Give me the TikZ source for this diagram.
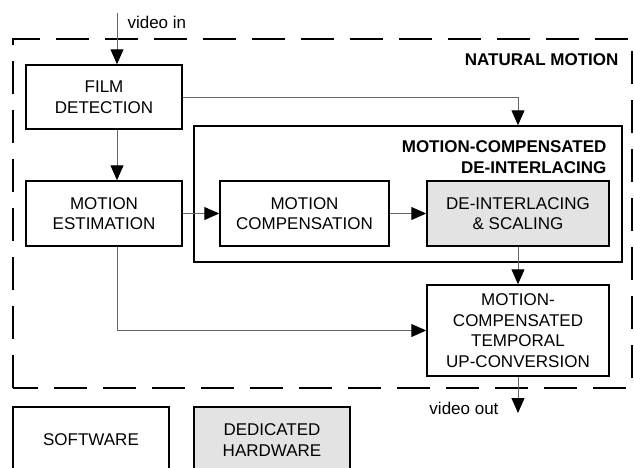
\documentclass[tikz,border=0pt]{standalone}
\usepackage{fontspec}
\setmainfont{Liberation Sans}
\usetikzlibrary{arrows.meta}
\begin{document}
\begin{tikzpicture}[x=1pt,y=-1pt,>={Triangle[length=15pt,width=13pt,color=black]},
  txt/.style={font=\fontsize{17}{20.5}\selectfont},
  blk/.style={txt,draw,line width=1.5pt,align=center,inner sep=0pt},
  hwblk/.style={blk,fill=gray!22},
  link/.style={draw=black!60,line width=1pt},
  title/.style={font=\fontsize{17}{20.5}\selectfont\bfseries,align=right}]
\clip (0,0) rectangle (634,467);
\draw[line width=2.8pt,dash pattern=on 33pt off 16pt] (13,388) -- (13,39) -- (632,39) -- (632,388) -- cycle;
\node[title,anchor=east] (nm) at (622,60) {NATURAL MOTION};
\node[draw,line width=1.5pt,minimum width=428pt,minimum height=136pt] (mcdi) at (408,194) {};
\node[title,anchor=east] (mcdititle) at (610,157) {MOTION-COMPENSATED\\DE-INTERLACING};
\node[blk,minimum width=156pt,minimum height=64pt] (film) at (104,97) {FILM\\DETECTION};
\node[blk,minimum width=156pt,minimum height=65pt] (motest) at (104,213.5) {MOTION\\ESTIMATION};
\node[blk,minimum width=169pt,minimum height=65pt] (motcomp) at (304.5,213.5) {MOTION\\COMPENSATION};
\node[hwblk,minimum width=182pt,minimum height=65pt] (deint) at (518,213.5) {DE-INTERLACING\\\& SCALING};
\node[blk,minimum width=182pt,minimum height=91pt] (upconv) at (518,330.5) {MOTION-\\COMPENSATED\\TEMPORAL\\UP-CONVERSION};
\node[blk,minimum width=156pt,minimum height=66pt] (sw) at (91,440) {SOFTWARE};
\node[hwblk,minimum width=156pt,minimum height=66pt] (hw) at (272,440) {DEDICATED\\HARDWARE};
\coordinate (vin) at (117,13);
\coordinate (vout) at (518,413);
\node[txt,anchor=west] (vinlbl) at (124,22) {video in};
\node[txt,anchor=east] (voutlbl) at (502,408) {video out};
\draw[link,->] (vin) -- (vin |- film.north);
\draw[link,->] (vin |- film.south) -- (vin |- motest.north);
\draw[link,->] (film.east) -| (deint.center |- mcdi.north);
\draw[link,->] (motest.east) -- (motcomp.west);
\draw[link,->] (motcomp.east) -- (deint.west);
\draw[link,->] (deint.south) -- (upconv.north);
\draw[link,->] (vin |- motest.south) |- (upconv.west);
\draw[link,->] (upconv.south) -- (vout);
\end{tikzpicture}
\end{document}
